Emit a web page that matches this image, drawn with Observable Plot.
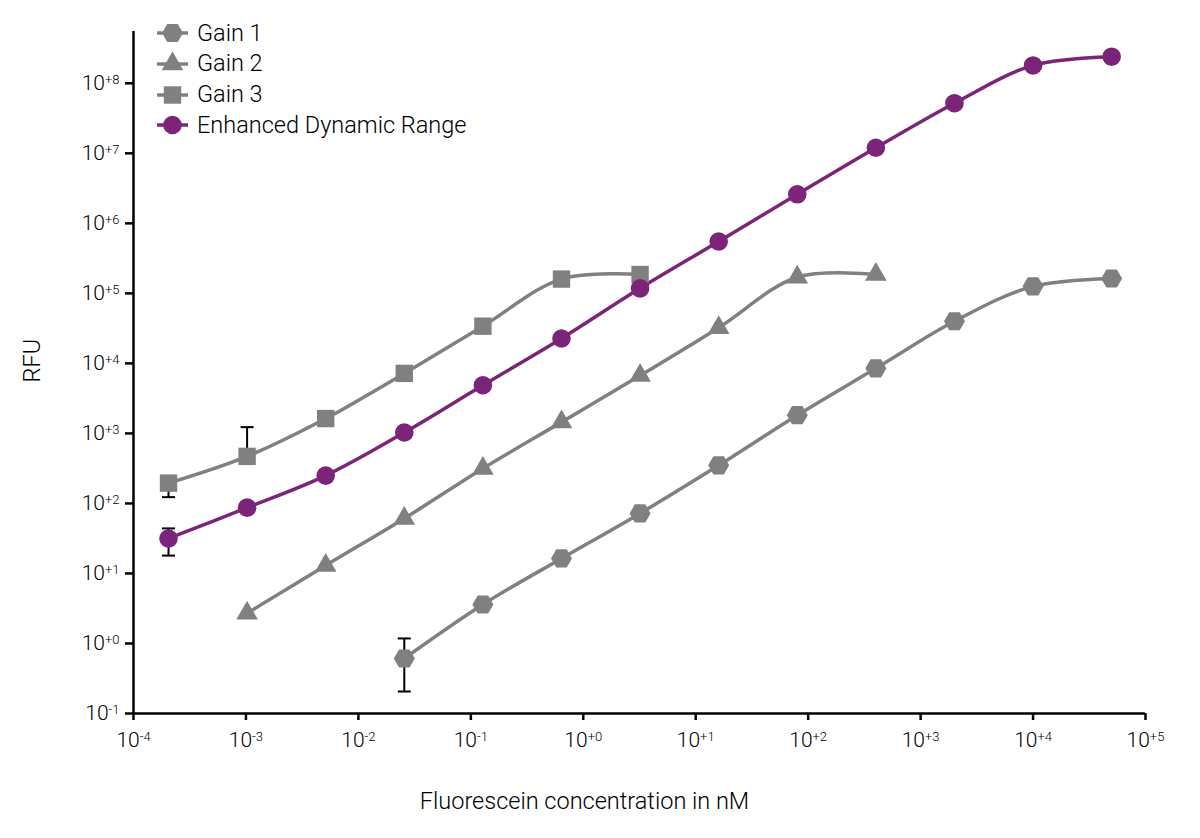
<!DOCTYPE html>
<html>
<head>
<meta charset="utf-8">
<script src="https://cdn.jsdelivr.net/npm/d3@7"></script>
<script src="https://cdn.jsdelivr.net/npm/@observablehq/plot@0.6"></script>
<style>
  html, body { margin: 0; padding: 0; background: #ffffff; }
  #wrap { position: relative; width: 1200px; height: 838px; font-family: Roboto, "Noto Sans", sans-serif; }
  #legend { position: absolute; left: 155px; top: 18px; }
  .lg-row { display: flex; align-items: center; height: 30.7px; }
  .lg-row span { font-size: 23.5px; font-weight: 300; color: #000; margin-left: 8px; line-height: 1; }
</style>
</head>
<body>
<div id="wrap">
  <div id="chart"></div>
  <div id="legend"></div>
</div>
<script>
// ---- Data ----
const concentrationsNM = [0.0002048, 0.001024, 0.00512, 0.0256, 0.128, 0.64, 3.2, 16, 80, 400, 2000, 10000, 50000];
const seriesNames = ["Gain 1", "Gain 2", "Gain 3", "Enhanced Dynamic Range"];
const gain1RFU = [null, null, null, 0.61, 3.6, 16.4, 72, 350, 1820, 8500, 40000, 126000, 163000];
const gain2RFU = [null, 2.7, 13, 61, 316, 1450, 6700, 32400, 170000, 186000, null, null, null];
const gain3RFU = [195, 470, 1630, 7200, 34000, 160000, 186000, null, null, null, null, null, null];
const edrRFU = [31.6, 87, 250, 1030, 4880, 22700, 118000, 550000, 2600000, 12000000, 52000000, 180000000, 240000000];

const errorSeries = ["Gain 3", "Gain 3", "Enhanced Dynamic Range", "Gain 1"];
const errorX = [0.0002048, 0.001024, 0.0002048, 0.0256];
const errorLow = [123, 400, 18, 0.206];
const errorHigh = [240, 1230, 44, 1.18];

const xTicks = [1e-4, 1e-3, 1e-2, 1e-1, 1e0, 1e1, 1e2, 1e3, 1e4, 1e5];
const yTicks = [1e-1, 1e0, 1e1, 1e2, 1e3, 1e4, 1e5, 1e6, 1e7, 1e8];

const xLabel = "Fluorescein concentration in nM";
const yLabel = "RFU";

// ---- Styles ----
const GRAY = "#808080";
const PURPLE = "#7b2479";
const seriesColors = [GRAY, GRAY, GRAY, PURPLE];

// custom symbols (r = sqrt(size/pi))
const hexSym = { draw(ctx, size) { const r = Math.sqrt(size / Math.PI);
  for (let i = 0; i < 6; i++) { const a = i * Math.PI / 3, px = r * Math.cos(a), py = r * Math.sin(a);
    if (i) ctx.lineTo(px, py); else ctx.moveTo(px, py); } ctx.closePath(); } };
const triSym = { draw(ctx, size) { const R = Math.sqrt(size / Math.PI), h = R * Math.sqrt(3) / 2;
  ctx.moveTo(0, -R); ctx.lineTo(h, R / 2); ctx.lineTo(-h, R / 2); ctx.closePath(); } };
const sqSym = { draw(ctx, size) { const r = Math.sqrt(size / Math.PI);
  ctx.moveTo(-r, -r); ctx.lineTo(r, -r); ctx.lineTo(r, r); ctx.lineTo(-r, r); ctx.closePath(); } };
const circSym = { draw(ctx, size) { const r = Math.sqrt(size / Math.PI);
  ctx.moveTo(r, 0); ctx.arc(0, 0, r, 0, 2 * Math.PI); } };
const capSym = { draw(ctx, size) { const r = Math.sqrt(size / Math.PI);
  ctx.moveTo(-r, 0); ctx.lineTo(r, 0); } };

const seriesSymbols = [hexSym, triSym, sqSym, circSym];
const seriesRadius = [10.5, 12.5, 8.7, 9.3];

// ---- Build tidy table ----
const seriesValues = [gain1RFU, gain2RFU, gain3RFU, edrRFU];
const rows = [];
seriesNames.forEach((name, s) => {
  seriesValues[s].forEach((v, i) => { if (v != null) rows.push({ series: name, x: concentrationsNM[i], y: v }); });
});
const errRows = errorSeries.map((s, i) => ({ series: s, x: errorX[i], lo: errorLow[i], hi: errorHigh[i] }));

const fmt = d => { const e = Math.round(Math.log10(d)); return "10^" + (e >= 0 ? "+" + e : "" + e); };

const marks = [
  Plot.axisX({ ticks: xTicks, tickFormat: fmt, tickSize: 7, tickPadding: 12, strokeWidth: 2.5, label: null, fontSize: 21, fontWeight: 300, fill: "#000" }),
  Plot.axisY({ ticks: yTicks, tickFormat: fmt, tickSize: 8, tickPadding: 6, strokeWidth: 2.5, label: null, fontSize: 21, fontWeight: 300, fill: "#000" }),
  Plot.ruleY([0.1], { stroke: "#000", strokeWidth: 2.5 }),
  Plot.ruleX([1e-4], { stroke: "#000", strokeWidth: 2.5 }),
];
seriesNames.forEach((name, s) => {
  marks.push(Plot.line(rows.filter(d => d.series === name), { x: "x", y: "y", stroke: seriesColors[s], strokeWidth: 3.5, curve: "catmull-rom" }));
});
marks.push(Plot.ruleX(errRows, { x: "x", y1: "lo", y2: "hi", stroke: "#000", strokeWidth: 2 }));
marks.push(Plot.dot(errRows, { x: "x", y: "lo", symbol: capSym, r: 6.5, stroke: "#000", strokeWidth: 2, fill: "none" }));
marks.push(Plot.dot(errRows, { x: "x", y: "hi", symbol: capSym, r: 6.5, stroke: "#000", strokeWidth: 2, fill: "none" }));
seriesNames.forEach((name, s) => {
  marks.push(Plot.dot(rows.filter(d => d.series === name), { x: "x", y: "y", symbol: seriesSymbols[s], r: seriesRadius[s], fill: seriesColors[s], stroke: "none" }));
});
marks.push(Plot.text([xLabel], { text: d => d, frameAnchor: "bottom", dy: 88, dx: -55, fontSize: 23.5, fontWeight: 300, lineAnchor: "middle", fill: "#000" }));
marks.push(Plot.text([yLabel], { text: d => d, frameAnchor: "left", rotate: -90, dx: -101, dy: 10, fontSize: 23.5, fontWeight: 300, lineAnchor: "middle", fill: "#000" }));

const plot = Plot.plot({
  width: 1200, height: 838,
  marginTop: 31, marginBottom: 125, marginLeft: 133, marginRight: 55,
  x: { type: "log", domain: [1e-4, 1e5] },
  y: { type: "log", domain: [0.1, Math.pow(10, 8.74)] },
  style: { fontFamily: "Roboto, 'Noto Sans', sans-serif", color: "#000", background: "#fff", overflow: "visible" },
  marks
});

// superscript exponents on tick labels
plot.querySelectorAll("text").forEach(t => {
  const m = /^10\^([+\-]\d+)$/.exec(t.textContent);
  if (!m) return;
  t.textContent = "";
  const ns = "http://www.w3.org/2000/svg";
  const a = document.createElementNS(ns, "tspan"); a.textContent = "10"; t.appendChild(a);
  const b = document.createElementNS(ns, "tspan"); b.textContent = m[1];
  b.setAttribute("dy", "-0.5em"); b.setAttribute("font-size", "13px"); t.appendChild(b);
});
document.getElementById("chart").appendChild(plot);

// ---- Legend ----
const legend = d3.select("#legend");
seriesNames.forEach((name, s) => {
  const row = legend.append("div").attr("class", "lg-row");
  const svg = row.append("svg").attr("width", 34).attr("height", 26);
  svg.append("line").attr("x1", 2).attr("x2", 33).attr("y1", 13).attr("y2", 13)
    .attr("stroke", seriesColors[s]).attr("stroke-width", 3.5);
  const p = d3.path();
  const r = seriesRadius[s];
  seriesSymbols[s].draw(p, r * r * Math.PI);
  svg.append("path").attr("d", p.toString()).attr("transform", "translate(17.5,13)").attr("fill", seriesColors[s]);
  row.append("span").text(name);
});
</script>
</body>
</html>
